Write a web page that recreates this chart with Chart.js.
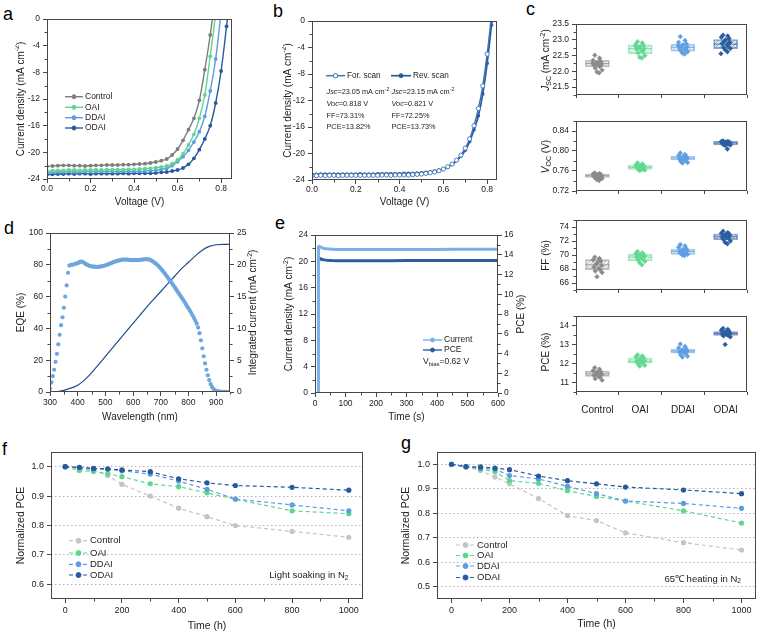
<!DOCTYPE html>
<html><head><meta charset="utf-8"><title>Perovskite device figure</title>
<script src="https://cdn.jsdelivr.net/npm/chart.js@4.4.1/dist/chart.umd.min.js"></script>
<style>
html,body{margin:0;padding:0;background:#fff}
#wrap{position:relative;width:760px;height:634px;overflow:hidden;background:#fff}
#wrap canvas{position:absolute}
.pl{position:absolute;font-family:"Liberation Sans",Arial,sans-serif;font-size:18px;line-height:18px;color:#000}
</style></head><body>
<div id="wrap">
<div class="pl" style="left:3px;top:5px">a</div>
<div class="pl" style="left:273px;top:2px">b</div>
<div class="pl" style="left:526px;top:0px">c</div>
<div class="pl" style="left:4px;top:219px">d</div>
<div class="pl" style="left:275px;top:214px">e</div>
<div class="pl" style="left:2px;top:440px">f</div>
<div class="pl" style="left:401px;top:434px">g</div>
</div>
<script>
// ================= DATA =================
// (a) J-V curves
const A_V = [0,0.025,0.05,0.075,0.1,0.125,0.15,0.175,0.2,0.225,0.25,0.275,0.3,0.325,0.35,0.375,0.4,0.425,0.45,0.475,0.5,0.525,0.55,0.575,0.6,0.625,0.65,0.675,0.7,0.725,0.75,0.775,0.8,0.825,0.85];
const A_CTRL = [-22.1,-22.05,-22.0,-21.95,-21.95,-22.0,-22.0,-22.05,-22.0,-21.95,-21.95,-21.9,-21.9,-21.9,-21.85,-21.85,-21.8,-21.75,-21.7,-21.6,-21.45,-21.25,-21.0,-20.4,-19.5,-18.2,-16.6,-14.9,-12.2,-7.6,-2.4,4.0];
const A_OAI = [-22.8,-22.75,-22.7,-22.7,-22.65,-22.65,-22.7,-22.65,-22.65,-22.6,-22.65,-22.6,-22.6,-22.6,-22.6,-22.55,-22.55,-22.5,-22.45,-22.4,-22.3,-22.2,-22.05,-21.7,-21.1,-20.2,-18.9,-17.3,-14.9,-11.4,-5.6,0.8];
const A_DDAI = [-23.05,-23.0,-22.95,-22.95,-22.9,-22.95,-22.95,-22.9,-22.9,-22.9,-22.9,-22.9,-22.85,-22.9,-22.85,-22.85,-22.85,-22.85,-22.8,-22.75,-22.7,-22.55,-22.4,-22.0,-21.4,-20.65,-19.7,-18.45,-16.9,-14.6,-10.8,-6.0,1.0];
const A_ODAI = [-23.35,-23.3,-23.25,-23.25,-23.2,-23.25,-23.2,-23.2,-23.25,-23.2,-23.2,-23.2,-23.2,-23.2,-23.15,-23.2,-23.15,-23.15,-23.15,-23.15,-23.1,-23.0,-22.95,-22.8,-22.65,-22.35,-21.8,-20.9,-19.6,-18.0,-16.0,-12.6,-7.8,-1.1,6.0];
const A_XT = [0,0.2,0.4,0.6,0.8];
const A_YT = [-24,-20,-16,-12,-8,-4,0];

// (b) forward / reverse scan
const B_V = [0,0.02,0.04,0.06,0.08,0.1,0.12,0.14,0.16,0.18,0.2,0.22,0.24,0.26,0.28,0.3,0.32,0.34,0.36,0.38,0.4,0.42,0.44,0.46,0.48,0.5,0.52,0.54,0.56,0.58,0.6,0.62,0.64,0.66,0.68,0.7,0.72,0.74,0.76,0.78,0.8,0.82,0.84];
const B_FOR = [-23.35,-23.35,-23.3,-23.35,-23.3,-23.3,-23.35,-23.3,-23.3,-23.3,-23.3,-23.3,-23.3,-23.3,-23.3,-23.3,-23.25,-23.25,-23.3,-23.25,-23.25,-23.25,-23.25,-23.2,-23.15,-23.1,-23.0,-22.9,-22.8,-22.6,-22.35,-22.0,-21.6,-21.0,-20.25,-19.2,-17.8,-15.8,-13.2,-9.8,-5.0,0.8];
const B_REV = [-23.15,-23.15,-23.1,-23.1,-23.1,-23.1,-23.1,-23.1,-23.1,-23.1,-23.1,-23.05,-23.1,-23.1,-23.1,-23.05,-23.05,-23.05,-23.05,-23.05,-23.05,-23.0,-23.0,-23.0,-22.95,-22.9,-22.85,-22.75,-22.65,-22.5,-22.35,-22.05,-21.65,-21.1,-20.4,-19.5,-18.2,-16.4,-14.3,-11.0,-6.4,-0.6,5.0];

// (c) statistics
const CATS = ['Control','OAI','DDAI','ODAI'];
const C_XT = [0.5,1.5,2.5,3.5];
const JIT = [-0.06,0.05,-0.1,0.08,0.0,-0.03,0.1,-0.08,0.03,0.06,-0.05,0.11,-0.01,0.04,-0.11,0.07];
const JSC_CTRL = [22.51,22.42,22.35,22.3,22.28,22.25,22.22,22.2,22.18,22.15,22.1,22.04,21.98,21.95,22.26,22.32];
const JSC_OAI = [22.94,22.9,22.86,22.82,22.78,22.75,22.72,22.7,22.66,22.62,22.58,22.5,22.45,22.42,22.8,22.68];
const JSC_DDAI = [23.1,22.98,22.92,22.88,22.84,22.8,22.77,22.74,22.71,22.68,22.65,22.62,22.58,22.55,22.82,22.7];
const JSC_ODAI = [23.15,23.12,23.08,23.04,23.0,22.96,22.92,22.88,22.84,22.8,22.76,22.72,22.68,22.62,22.56,22.9];
const JSC_BOX = [[22.14,22.25,22.35],[22.56,22.72,22.84],[22.64,22.76,22.86],[22.72,22.86,23.01]];
const VOC_CTRL = [0.756,0.755,0.754,0.753,0.752,0.751,0.75,0.749,0.748,0.747,0.746,0.745,0.743,0.741];
const VOC_OAI = [0.776,0.774,0.772,0.771,0.77,0.769,0.768,0.767,0.766,0.765,0.764,0.762,0.761,0.763];
const VOC_DDAI = [0.796,0.793,0.791,0.789,0.788,0.786,0.785,0.784,0.782,0.781,0.779,0.777,0.776,0.787];
const VOC_ODAI = [0.82,0.819,0.819,0.818,0.818,0.817,0.816,0.815,0.815,0.814,0.813,0.812,0.811,0.804];
const VOC_BOX = [[0.747,0.7505,0.754],[0.763,0.767,0.7715],[0.782,0.786,0.79],[0.812,0.816,0.8195]];
const FF_CTRL = [69.7,69.5,69.3,69.1,68.9,68.7,68.5,68.3,68.1,67.9,67.7,67.5,66.9,69.4];
const FF_OAI = [70.5,70.3,70.2,70.1,70.0,69.9,69.8,69.7,69.6,69.5,69.3,69.1,68.9,68.6];
const FF_DDAI = [71.5,71.3,71.1,70.9,70.8,70.7,70.6,70.5,70.4,70.3,70.2,70.1,70.0,69.9];
const FF_ODAI = [73.4,73.2,73.1,73.0,72.9,72.8,72.7,72.6,72.5,72.4,72.2,72.0,71.8,71.6];
const FF_BOX = [[67.9,68.6,69.35],[69.15,69.7,70.1],[70.1,70.5,70.85],[72.2,72.6,73.0]];
const PCE_CTRL = [11.78,11.7,11.62,11.56,11.5,11.45,11.42,11.38,11.33,11.28,11.2,11.12,11.55];
const PCE_OAI = [12.45,12.4,12.35,12.3,12.25,12.2,12.15,12.1,12.06,12.02,11.98,11.9,11.86];
const PCE_DDAI = [13.02,12.9,12.82,12.76,12.72,12.68,12.64,12.6,12.56,12.52,12.45,12.38,12.34];
const PCE_ODAI = [13.85,13.8,13.75,13.7,13.66,13.62,13.58,13.55,13.52,13.48,13.45,13.4,13.0];
const PCE_BOX = [[11.32,11.45,11.6],[12.02,12.12,12.28],[12.55,12.65,12.74],[13.48,13.57,13.68]];

// (d) EQE
const D_WL = [300,305,310,315,320,325,330,335,340,345,
350,355,360,365,370,375,380,385,390,395,
400,405,410,415,420,425,430,435,440,445,
450,455,460,465,470,475,480,485,490,495,
500,505,510,515,520,525,530,535,540,545,
550,555,560,565,570,575,580,585,590,595,
600,605,610,615,620,625,630,635,640,645,
650,655,660,665,670,675,680,685,690,695,
700,705,710,715,720,725,730,735,740,745,
750,755,760,765,770,775,780,785,790,795,
800,805,810,815,820,825,830,835,840,845,
850,855,860,865,870,875,880,885,890,895,
900,905,910,915,920,925,930,935,940,945,
950];
const D_EQE = [2,6,10,14,19,24,30,36,42,47,
53,60,67,75,79.5,80,80,80.2,80.5,80.8,
81,81.5,82,82,81.6,81,80.4,79.9,79.5,79.2,
79,78.9,78.8,78.7,78.7,78.7,78.8,79,79.2,79.4,
79.7,80,80.3,80.6,81,81.4,81.7,82,82.3,82.6,
82.8,83,83.2,83.3,83.3,83.3,83.2,83.1,83,83,
83,82.9,82.9,83,83,83.1,83.2,83.3,83.4,83.5,
83.5,83.4,83.2,82.8,82.3,81.7,81,80.3,79.5,78.6,
77.6,76.6,75.5,74.4,73.2,72.1,70.9,69.7,68.5,67.2,
66,64.7,63.4,62.1,60.8,59.5,58.2,56.8,55.4,54,
52.6,51.2,49.7,48.1,46.5,44.8,43,40.5,37,32.5,
27.5,22.5,18,14,10.5,7.5,5,3.2,2,1.2,
0.7,0.4,0.3,0.2,0.1,0.1,0.1,0.1,0,0,
0];
const D_WL2 = [300,325,350,375,400,425,450,475,500,525,550,575,600,625,650,675,700,725,750,775,800,825,850,875,900,925,950];
const D_JINT = [0,0.05,0.25,0.6,1.05,1.9,3.0,4.3,5.6,6.9,8.2,9.5,10.8,12.1,13.4,14.6,15.8,17.0,18.2,19.4,20.4,21.4,22.3,22.9,23.15,23.2,23.2];

// (e) steady-state output
const E_T_CUR = [10,10.5,12,15,19,24,30,40,55,75,100,150,200,250,300,350,400,450,500,550,600];
const E_CUR = [0,22.4,22.35,22.25,22.15,22.05,21.95,21.9,21.85,21.8,21.8,21.78,21.78,21.78,21.8,21.8,21.8,21.82,21.82,21.83,21.85];
const E_T_PCE = [10.5,12,15,19,24,30,40,55,75,100,150,200,250,300,350,400,450,500,550,600];
const E_PCE = [13.78,13.72,13.64,13.57,13.52,13.48,13.45,13.42,13.4,13.4,13.4,13.4,13.4,13.41,13.41,13.42,13.42,13.42,13.43,13.43];

// (f) light soaking, (g) 65 C heating
const T_AGE = [0,50,100,150,200,300,400,500,600,800,1000];
const F_CTRL = [1.0,0.993,0.988,0.97,0.94,0.90,0.859,0.83,0.80,0.78,0.76];
const F_OAI = [1.0,0.987,0.984,0.976,0.966,0.942,0.932,0.911,0.889,0.85,0.84];
const F_DDAI = [1.0,0.997,0.992,0.991,0.986,0.975,0.951,0.923,0.89,0.87,0.85];
const F_ODAI = [1.0,0.998,0.994,0.993,0.989,0.983,0.959,0.945,0.936,0.93,0.92];
const G_CTRL = [1.0,0.99,0.974,0.948,0.92,0.86,0.79,0.77,0.72,0.68,0.65];
const G_OAI = [1.0,0.99,0.98,0.969,0.933,0.922,0.892,0.868,0.85,0.81,0.76];
const G_DDAI = [1.0,0.99,0.984,0.98,0.954,0.94,0.91,0.88,0.85,0.84,0.82];
const G_ODAI = [1.0,0.99,0.989,0.984,0.978,0.952,0.933,0.92,0.907,0.895,0.88];

// ================= STYLE / HELPERS =================
const FAM = '"Liberation Sans", Arial, sans-serif';
const AX = '#474747', TXT = '#1c1c1c';
const C_CTRL = '#7d7d7d', C_OAI = '#5ed78d', C_DDAI = '#5b9de1', C_ODAI = '#27599c', C_CTRL_LT = '#c4c4c4';
const C_GROUP = ['#8a8a8a', '#62d892', '#5e9fe2', '#2b5e9f'];
const RGB_C = ['140,140,140', '98,216,146', '94,159,226', '43,94,159'];
Chart.defaults.font.family = FAM;
Chart.defaults.color = TXT;
Chart.defaults.animation = false;
Chart.defaults.events = [];
Chart.defaults.plugins.legend.display = false;
Chart.defaults.plugins.tooltip.enabled = false;

const ANNOT = {}, MINOR = {};

function drawRich(ctx, segs, x, y, size, align, rot, color) {
  ctx.save();
  ctx.translate(x, y);
  if (rot) ctx.rotate(rot * Math.PI / 180);
  ctx.textBaseline = 'middle'; ctx.textAlign = 'left'; ctx.fillStyle = color || TXT;
  const parts = segs.map(s => {
    const small = s.sub || s.sup;
    const fs = small ? size * 0.7 : size;
    const font = (s.i ? 'italic ' : '') + fs + 'px ' + FAM;
    ctx.font = font;
    return { t: s.t, font, w: ctx.measureText(s.t).width, dy: s.sub ? size * 0.28 : (s.sup ? -size * 0.35 : 0) };
  });
  const tot = parts.reduce((a, p) => a + p.w, 0);
  let cx = align === 'center' ? -tot / 2 : (align === 'right' ? -tot : 0);
  for (const p of parts) { ctx.font = p.font; ctx.fillText(p.t, cx, p.dy); cx += p.w; }
  ctx.restore();
}
function drawMarker(ctx, x, y, r, style, fill, stroke) {
  ctx.save(); ctx.fillStyle = fill; ctx.strokeStyle = stroke; ctx.lineWidth = 1; ctx.setLineDash([]);
  ctx.beginPath();
  if (style === 'rectRot') { ctx.moveTo(x, y - r); ctx.lineTo(x + r, y); ctx.lineTo(x, y + r); ctx.lineTo(x - r, y); ctx.closePath(); }
  else ctx.arc(x, y, r, 0, Math.PI * 2);
  ctx.fill(); ctx.stroke(); ctx.restore();
}
Chart.register({ id: 'frame', afterDraw(chart) {
  const a = chart.chartArea, ctx = chart.ctx;
  const l = Math.round(a.left), t = Math.round(a.top), r = Math.round(a.right), b = Math.round(a.bottom);
  ctx.save(); ctx.strokeStyle = AX; ctx.lineWidth = 1; ctx.setLineDash([]);
  ctx.strokeRect(l + 0.5, t + 0.5, r - l - 1, b - t - 1);
  ctx.restore();
}});
Chart.register({ id: 'minorTicks', afterDraw(chart) {
  const m = MINOR[chart.canvas.id]; if (!m) return;
  const ctx = chart.ctx; ctx.save(); ctx.strokeStyle = AX; ctx.lineWidth = 1;
  for (const id in m) {
    const s = chart.scales[id]; if (!s) continue;
    const st = m[id];
    const majors = s.ticks.map(t => t.value);
    for (let k = Math.ceil(s.min / st - 1e-9); k * st <= s.max + 1e-9; k++) {
      const v = k * st;
      if (majors.some(mv => Math.abs(mv - v) < st * 0.01)) continue;
      const p = Math.round(s.getPixelForValue(v)) + 0.5;
      ctx.beginPath();
      if (s.isHorizontal()) { ctx.moveTo(p, s.top); ctx.lineTo(p, s.top + 2.5); }
      else if (s.position === 'left') { ctx.moveTo(s.right, p); ctx.lineTo(s.right - 2.5, p); }
      else { ctx.moveTo(s.left, p); ctx.lineTo(s.left + 2.5, p); }
      ctx.stroke();
    }
  }
  ctx.restore();
}});
Chart.register({ id: 'annot', afterDraw(chart) {
  const a = ANNOT[chart.canvas.id]; if (!a) return;
  const ctx = chart.ctx, ox = a.off[0], oy = a.off[1];
  for (const it of a.items) {
    if (it.type === 'text') {
      drawRich(ctx, it.segs, it.x - ox, it.y - oy, it.size, it.align || 'left', it.rot || 0, it.color);
    } else {
      const ds = chart.data.datasets[it.ds];
      const x0 = it.x - ox, y0 = it.y - oy;
      ctx.save(); ctx.strokeStyle = ds.borderColor; ctx.lineWidth = it.lw || ds.borderWidth || 1;
      ctx.setLineDash(ds.borderDash || []);
      ctx.beginPath(); ctx.moveTo(x0, y0); ctx.lineTo(x0 + it.len, y0); ctx.stroke();
      ctx.restore();
      drawMarker(ctx, x0 + it.len / 2, y0, it.mr, ds.pointStyle || 'circle', ds.pointBackgroundColor || ds.borderColor, ds.pointBorderColor || ds.borderColor);
      drawRich(ctx, [{ t: ds.label }], x0 + it.len + 2, y0, it.size, 'left', 0);
    }
  }
}});

function geo(L, T, R, B, left, bottom, right, rightAxis) {
  const cy = T - 9;
  return { cx: left, cy, cw: right - left, ch: bottom - cy, yW: L - left, xH: bottom - B, padTop: T - cy, padRight: rightAxis ? 0 : right - R, rW: right - R };
}
function tickArr(arr) { return s => { s.ticks = arr.map(v => ({ value: v })); }; }
function ax(p) {
  return {
    type: 'linear', position: p.pos, min: p.min, max: p.max, offset: false,
    afterBuildTicks: tickArr(p.ticks), afterFit: p.fit,
    grid: { display: true, drawOnChartArea: !!p.grid, drawTicks: true, tickLength: p.tl || 4, color: '#b3b3b3', tickColor: AX, lineWidth: 1, tickWidth: 1 },
    border: { display: false, dash: p.grid ? [1.5, 2.5] : [] },
    ticks: { display: p.labels !== false, color: TXT, font: { family: FAM, size: p.fs || 8.5 }, padding: p.pad == null ? 2 : p.pad, maxRotation: 0, autoSkip: false, callback: p.fmt || (v => String(v)) },
    title: { display: !!p.title, text: p.title || '', color: TXT, font: { family: FAM, size: p.ts || 10 }, padding: 0 }
  };
}
function mk(id, g, cfg, annot, minor) {
  const cv = document.createElement('canvas');
  cv.id = id; cv.width = g.cw; cv.height = g.ch;
  cv.style.left = g.cx + 'px'; cv.style.top = g.cy + 'px'; cv.style.width = g.cw + 'px'; cv.style.height = g.ch + 'px';
  document.getElementById('wrap').appendChild(cv);
  if (annot) ANNOT[id] = { off: [g.cx, g.cy], items: annot };
  if (minor) MINOR[id] = minor;
  cfg.options = Object.assign({ responsive: false, maintainAspectRatio: false, devicePixelRatio: 1, animation: false,
    layout: { padding: { top: g.padTop, right: g.padRight, left: 0, bottom: 0 } } }, cfg.options);
  return new Chart(cv.getContext('2d'), cfg);
}
function xy(X, Y) { return Y.map((y, i) => ({ x: X[i], y })); }
const f1 = v => v.toFixed(1), f2 = v => v.toFixed(2);
const CD = [{ t: 'Current density (mA cm' }, { t: '-2', sup: 1 }, { t: ')' }];

// ================= (a) =================
(function () {
  const g = geo(47, 19, 232, 179, 15, 208, 246, false);
  const jv = (label, Y, c) => ({ label, data: xy(A_V, Y), showLine: true, borderColor: c, borderWidth: 1.4,
    pointRadius: 1.9, pointBackgroundColor: c, pointBorderColor: c, pointBorderWidth: 0, cubicInterpolationMode: 'monotone' });
  mk('ca', g, { type: 'scatter', data: { datasets: [
      jv('Control', A_CTRL, C_CTRL), jv('OAI', A_OAI, C_OAI), jv('DDAI', A_DDAI, C_DDAI), jv('ODAI', A_ODAI, C_ODAI)] },
    options: { scales: {
      x: ax({ pos: 'bottom', min: 0, max: 0.85, ticks: A_XT, fmt: f1, fit: s => { s.height = g.xH; }, title: 'Voltage (V)', pad: 1 }),
      y: ax({ pos: 'left', min: -24, max: 0, ticks: A_YT, fit: s => { s.width = g.yW; }, pad: 3 }) } } },
    [ { type: 'text', segs: CD, x: 21, y: 99, size: 10, align: 'center', rot: -90 },
      { type: 'leg', ds: 0, x: 65, y: 96.7, len: 18, mr: 2, size: 8.5 },
      { type: 'leg', ds: 1, x: 65, y: 107.3, len: 18, mr: 2, size: 8.5 },
      { type: 'leg', ds: 2, x: 65, y: 117.7, len: 18, mr: 2, size: 8.5 },
      { type: 'leg', ds: 3, x: 65, y: 128, len: 18, mr: 2, size: 8.5 } ],
    { x: 0.1, y: 2 });
})();

// ================= (b) =================
(function () {
  const g = geo(312, 21, 497, 180, 282, 208, 511, false);
  const S = 7.3;
  mk('cb', g, { type: 'scatter', data: { datasets: [
      { label: 'For. scan', data: xy(B_V, B_FOR), showLine: true, borderColor: '#3b70b6', borderWidth: 1.4, pointRadius: 2.1,
        pointBackgroundColor: '#ffffff', pointBorderColor: '#3b70b6', pointBorderWidth: 0.9, cubicInterpolationMode: 'monotone' },
      { label: 'Rev. scan', data: xy(B_V, B_REV), showLine: true, borderColor: '#2a5a9b', borderWidth: 1.7, pointRadius: 1.8,
        pointBackgroundColor: '#2a5a9b', pointBorderColor: '#2a5a9b', pointBorderWidth: 0, cubicInterpolationMode: 'monotone' } ] },
    options: { scales: {
      x: ax({ pos: 'bottom', min: 0, max: 0.845, ticks: A_XT, fmt: f1, fit: s => { s.height = g.xH; }, title: 'Voltage (V)', pad: 1 }),
      y: ax({ pos: 'left', min: -24, max: 0, ticks: A_YT, fit: s => { s.width = g.yW; }, pad: 3 }) } } },
    [ { type: 'text', segs: CD, x: 288, y: 100.5, size: 10, align: 'center', rot: -90 },
      { type: 'leg', ds: 0, x: 326, y: 75.7, len: 19, mr: 2.2, size: 8.2 },
      { type: 'leg', ds: 1, x: 391, y: 75.7, len: 20, mr: 2, size: 8.2 },
      { type: 'text', segs: [{ t: 'Jsc', i: 1 }, { t: '=23.05 mA cm' }, { t: '-2', sup: 1 }], x: 326.5, y: 92, size: S },
      { type: 'text', segs: [{ t: 'Voc', i: 1 }, { t: '=0.818 V' }], x: 326.5, y: 104, size: S },
      { type: 'text', segs: [{ t: 'FF=73.31%' }], x: 326.5, y: 115.5, size: S },
      { type: 'text', segs: [{ t: 'PCE=13.82%' }], x: 326.5, y: 127, size: S },
      { type: 'text', segs: [{ t: 'Jsc', i: 1 }, { t: '=23.15 mA cm' }, { t: '-2', sup: 1 }], x: 391.5, y: 92, size: S },
      { type: 'text', segs: [{ t: 'Voc', i: 1 }, { t: '=0.821 V' }], x: 391.5, y: 104, size: S },
      { type: 'text', segs: [{ t: 'FF=72.25%' }], x: 391.5, y: 115.5, size: S },
      { type: 'text', segs: [{ t: 'PCE=13.73%' }], x: 391.5, y: 127, size: S } ],
    { x: 0.1, y: 2 });
})();

// ================= (c) =================
function hatch(rgb) {
  const c = document.createElement('canvas'); c.width = 4; c.height = 4;
  const x = c.getContext('2d');
  x.fillStyle = 'rgba(' + rgb + ',0.16)'; x.fillRect(0, 0, 4, 4);
  x.strokeStyle = 'rgba(' + rgb + ',0.42)'; x.lineWidth = 1;
  x.beginPath(); x.moveTo(-1, 5); x.lineTo(5, -1); x.stroke();
  return x.createPattern(c, 'repeat');
}
function cChart(id, T, B, bottom, yMin, yMax, yTicks, fmt, minorStep, arrs, box, titleSegs, showCats) {
  const g = geo(576, T, 757, B, 532, bottom, 760, false);
  const datasets = [
    { type: 'bar', label: 'box', data: box.map((b, i) => ({ x: C_XT[i], y: [b[0], b[2]] })),
      backgroundColor: RGB_C.map(hatch), borderColor: RGB_C.map(c => 'rgba(' + c + ',0.55)'), borderWidth: 1,
      borderSkipped: false, barThickness: 24, order: 3 },
    { type: 'scatter', label: 'median', data: box.map((b, i) => ({ x: C_XT[i], y: b[1] })), pointStyle: 'line',
      pointRadius: 12, pointBorderWidth: 1, pointBorderColor: RGB_C.map(c => 'rgba(' + c + ',0.75)'), order: 2 } ];
  arrs.forEach((arr, gi) => datasets.push({ type: 'scatter', label: CATS[gi], data: arr.map((v, i) => ({ x: C_XT[gi] + JIT[i], y: v })),
    pointStyle: 'rectRot', pointRadius: 2.4, pointBackgroundColor: C_GROUP[gi], pointBorderColor: C_GROUP[gi], pointBorderWidth: 0.4, order: 1 }));
  mk(id, g, { type: 'scatter', data: { datasets },
    options: { scales: {
      x: ax({ pos: 'bottom', min: 0, max: 4, ticks: C_XT, labels: showCats, fmt: (v, i) => CATS[i], fs: 10, pad: 9, tl: 3, fit: s => { s.height = g.xH; } }),
      y: ax({ pos: 'left', min: yMin, max: yMax, ticks: yTicks, fmt, fit: s => { s.width = g.yW; }, pad: 3 }) } } },
    [ { type: 'text', segs: titleSegs, x: 546.7, y: (T + B) / 2, size: 10, align: 'center', rot: -90 } ],
    { y: minorStep });
}
cChart('cc1', 20, 100, 108, 21.25, 23.5, [21.5, 22, 22.5, 23, 23.5], f1, 0.25,
  [JSC_CTRL, JSC_OAI, JSC_DDAI, JSC_ODAI], JSC_BOX, [{ t: 'J', i: 1 }, { t: 'SC', sub: 1 }, { t: ' (mA cm' }, { t: '-2', sup: 1 }, { t: ')' }], false);
cChart('cc2', 117, 196, 204, 0.72, 0.86, [0.72, 0.76, 0.80, 0.84], f2, 0.02,
  [VOC_CTRL, VOC_OAI, VOC_DDAI, VOC_ODAI], VOC_BOX, [{ t: 'V', i: 1 }, { t: 'OC', sub: 1 }, { t: ' (V)' }], false);
cChart('cc3', 216, 295, 303, 65, 75, [66, 68, 70, 72, 74], v => String(v), 1,
  [FF_CTRL, FF_OAI, FF_DDAI, FF_ODAI], FF_BOX, [{ t: 'FF (%)' }], false);
cChart('cc4', 312, 392, 418, 10.5, 14.5, [11, 12, 13, 14], v => String(v), 0.5,
  [PCE_CTRL, PCE_OAI, PCE_DDAI, PCE_ODAI], PCE_BOX, [{ t: 'PCE (%)' }], true);

// ================= (d) =================
(function () {
  const g = geo(50, 233, 230, 392, 15, 423, 262, true);
  mk('cd', g, { type: 'scatter', data: { datasets: [
      { label: 'EQE', data: xy(D_WL, D_EQE), yAxisID: 'y', pointRadius: 2.1, pointBackgroundColor: '#6ea5de', pointBorderColor: '#6ea5de', pointBorderWidth: 0 },
      { label: 'Integrated current', data: xy(D_WL2, D_JINT), yAxisID: 'y1', showLine: true, borderColor: '#1f4c8a', borderWidth: 1.2,
        pointRadius: 0, cubicInterpolationMode: 'monotone' } ] },
    options: { scales: {
      x: ax({ pos: 'bottom', min: 300, max: 950, ticks: [300, 400, 500, 600, 700, 800, 900], fit: s => { s.height = g.xH; }, title: 'Wavelength (nm)', pad: 2 }),
      y: ax({ pos: 'left', min: 0, max: 100, ticks: [0, 20, 40, 60, 80, 100], fit: s => { s.width = g.yW; }, title: 'EQE (%)', pad: 3 }),
      y1: ax({ pos: 'right', min: 0, max: 25, ticks: [0, 5, 10, 15, 20, 25], fit: s => { s.width = g.rW; }, pad: 3 }) } } },
    [ { type: 'text', segs: [{ t: 'Integrated current (mA cm' }, { t: '-2', sup: 1 }, { t: ')' }], x: 253.5, y: 312.5, size: 10, align: 'center', rot: -90 } ],
    { x: 50, y: 10, y1: 2.5 });
})();

// ================= (e) =================
(function () {
  const g = geo(315, 235, 498, 393, 283, 423, 530, true);
  mk('ce', g, { type: 'scatter', data: { datasets: [
      { label: 'Current', data: xy(E_T_CUR, E_CUR), yAxisID: 'y', showLine: true, borderColor: '#79b0e8', borderWidth: 3, pointRadius: 0,
        pointBackgroundColor: '#79b0e8' },
      { label: 'PCE', data: xy(E_T_PCE, E_PCE), yAxisID: 'y1', showLine: true, borderColor: '#2b5c9c', borderWidth: 3, pointRadius: 0,
        pointBackgroundColor: '#2b5c9c' } ] },
    options: { scales: {
      x: ax({ pos: 'bottom', min: 0, max: 600, ticks: [0, 100, 200, 300, 400, 500, 600], fit: s => { s.height = g.xH; }, title: 'Time (s)', pad: 2 }),
      y: ax({ pos: 'left', min: 0, max: 24, ticks: [0, 4, 8, 12, 16, 20, 24], fit: s => { s.width = g.yW; }, pad: 3 }),
      y1: ax({ pos: 'right', min: 0, max: 16, ticks: [0, 2, 4, 6, 8, 10, 12, 14, 16], fit: s => { s.width = g.rW; }, pad: 2 }) } } },
    [ { type: 'text', segs: CD, x: 289.5, y: 314, size: 10, align: 'center', rot: -90 },
      { type: 'text', segs: [{ t: 'PCE (%)' }], x: 521, y: 314, size: 10, align: 'center', rot: -90 },
      { type: 'leg', ds: 0, x: 423, y: 340, len: 19, mr: 2, lw: 1.4, size: 8.5 },
      { type: 'leg', ds: 1, x: 423, y: 350, len: 19, mr: 2, lw: 1.4, size: 8.5 },
      { type: 'text', segs: [{ t: 'V' }, { t: 'bias', sub: 1 }, { t: '=0.62 V' }], x: 423, y: 361.5, size: 8.5 } ],
    { x: 50, y: 2, y1: 1 });
})();

// ================= (f) & (g) =================
function agingChart(id, L, R, left, bottom, right, yMin, yTicks, series, colors, legX, legYs, note, noteX, noteY) {
  const g = geo(L, 452, R, 599, left, bottom, right, false);
  const names = ['Control', 'OAI', 'DDAI', 'ODAI'];
  const datasets = series.map((Y, i) => ({ label: names[i], data: xy(T_AGE, Y), showLine: true, borderColor: colors[i], borderWidth: 1.2,
    borderDash: [4, 3], pointRadius: 2.6, pointBackgroundColor: colors[i], pointBorderColor: colors[i], pointBorderWidth: 0, order: 4 - i }));
  const items = names.map((n, i) => ({ type: 'leg', ds: i, x: legX, y: legYs[i], len: 19, mr: 2.5, size: 9.5 }));
  items.push({ type: 'text', segs: note, x: noteX, y: noteY, size: 9.5, align: 'right' });
  mk(id, g, { type: 'scatter', data: { datasets },
    options: { scales: {
      x: ax({ pos: 'bottom', min: -50, max: 1050, ticks: [0, 200, 400, 600, 800, 1000], fs: 9, fit: s => { s.height = g.xH; }, title: 'Time (h)', ts: 10.5, pad: 2 }),
      y: ax({ pos: 'left', min: yMin, max: 1.05, ticks: yTicks, fs: 9, fmt: f1, grid: true, fit: s => { s.width = g.yW; }, title: 'Normalized PCE', ts: 10.5, pad: 3 }) } } },
    items, { x: 100 });
}
agingChart('cf', 51, 363, 15, 632, 377, 0.55, [0.6, 0.7, 0.8, 0.9, 1.0], [F_CTRL, F_OAI, F_DDAI, F_ODAI],
  [C_CTRL_LT, C_OAI, C_DDAI, C_ODAI], 69, [540.7, 553, 564.3, 575],
  [{ t: 'Light soaking in N' }, { t: '2', sub: 1 }], 348.5, 575.7);
agingChart('cg', 437, 757, 400, 630, 760, 0.45, [0.5, 0.6, 0.7, 0.8, 0.9, 1.0], [G_CTRL, G_OAI, G_DDAI, G_ODAI],
  [C_CTRL_LT, C_OAI, C_DDAI, C_ODAI], 456, [545, 555.5, 566, 577.5],
  [{ t: '65\u2103 heating in N' }, { t: '2', sub: 1 }], 741, 579);
</script>
</body></html>
